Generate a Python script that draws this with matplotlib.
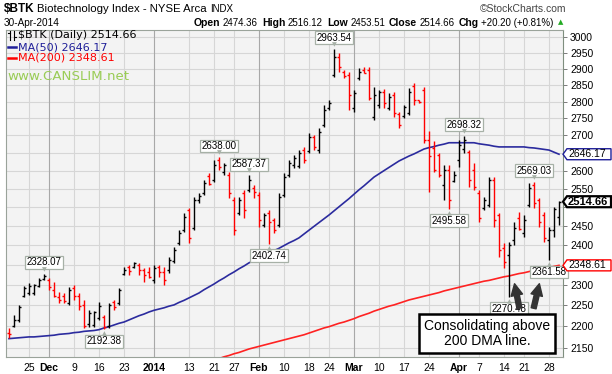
import numpy as np
import pandas as pd
import matplotlib
matplotlib.use('Agg')
import matplotlib.pyplot as plt
from matplotlib.patches import Polygon, FancyArrowPatch

# trading days on the chart
holidays = ['2013-11-28', '2013-12-25', '2014-01-01', '2014-01-20', '2014-02-17', '2014-04-18']
dates = pd.bdate_range('2013-11-19', '2014-04-30')
dates = dates[~dates.isin(pd.to_datetime(holidays))]

opens = [2183, 2201, 2215, 2273, 2280, 2280, 2297, 2315, 2312, 2288, 2270, 2273, 2256, 2293, 2273, 2251,
         2206, 2203, 2220, 2222, 2201, 2258, 2256, 2327, 2344, 2344, 2350, 2337, 2332, 2312, 2344, 2332,
         2337, 2360, 2406, 2440, 2493, 2445, 2520, 2539, 2585, 2574, 2630, 2596, 2588, 2520, 2485, 2539,
         2547, 2552, 2533, 2453, 2485, 2466, 2453, 2533, 2588, 2616, 2613, 2658, 2655, 2696, 2658, 2731,
         2781, 2881, 2937, 2891, 2881, 2781, 2872, 2897, 2897, 2754, 2790, 2829, 2781, 2820, 2763, 2757,
         2766, 2847, 2805, 2835, 2687, 2664, 2644, 2560, 2602, 2571, 2630, 2660, 2653, 2602, 2539, 2498,
         2506, 2574, 2479, 2393, 2375, 2414, 2471, 2432, 2506, 2560, 2520, 2479, 2414, 2440, 2474.36]
highs = [2195, 2227, 2251, 2297, 2305, 2302, 2317, 2328.07, 2317, 2307, 2283, 2280, 2295, 2300, 2280, 2263,
         2239, 2237, 2258, 2227, 2256, 2263, 2293, 2344, 2350, 2357, 2355, 2342, 2344, 2350, 2350, 2344,
         2370, 2396, 2440, 2485, 2498, 2528, 2539, 2574, 2594, 2630, 2638.00, 2621, 2596, 2528, 2528, 2547,
         2587.37, 2560, 2541, 2485, 2493, 2471, 2539, 2594, 2630, 2644, 2658, 2667, 2708, 2702, 2722, 2790,
         2805, 2963.54, 2950, 2897, 2891, 2835, 2903, 2906, 2906, 2844, 2835, 2838, 2826, 2829, 2769, 2790,
         2841, 2857, 2805, 2844, 2714, 2684, 2650, 2616, 2616, 2599, 2687, 2698.32, 2658, 2622, 2547, 2528,
         2582, 2582, 2485, 2406, 2409, 2461, 2487, 2479, 2566, 2569.03, 2525, 2487, 2448, 2501, 2516.12]
lows = [2172, 2199, 2210, 2270, 2275, 2275, 2295, 2312, 2288, 2270, 2256, 2256, 2251, 2263, 2239, 2196,
        2199, 2199, 2215, 2192.38, 2196, 2239, 2251, 2325, 2325, 2342, 2325, 2307, 2317, 2305, 2320, 2300,
        2330, 2355, 2401, 2435, 2406, 2440, 2512, 2533, 2560, 2568, 2602, 2588, 2525, 2427, 2479, 2471,
        2541, 2525, 2448, 2448, 2402.74, 2432, 2448, 2528, 2582, 2608, 2608, 2621, 2650, 2658, 2650, 2725,
        2775, 2875, 2891, 2872, 2775, 2769, 2866, 2888, 2805, 2745, 2781, 2781, 2775, 2754, 2722, 2751,
        2760, 2790, 2796, 2678, 2541, 2596, 2582, 2520, 2495.58, 2568, 2610, 2650, 2555, 2547, 2461, 2493,
        2501, 2448, 2370, 2342, 2270.48, 2401, 2440, 2422, 2501, 2498, 2448, 2409, 2361.58, 2422, 2453.51]
closes = [2181, 2215, 2246, 2293, 2297, 2300, 2312, 2323, 2295, 2273, 2263, 2261, 2288, 2273, 2249, 2201,
          2232, 2235, 2249, 2199, 2251, 2245, 2288, 2337, 2335, 2355, 2337, 2325, 2320, 2342, 2332, 2312,
          2363, 2388, 2432, 2474, 2419, 2520, 2531, 2566, 2562, 2616, 2610, 2616, 2539, 2440, 2520, 2493,
          2574, 2541, 2466, 2479, 2461, 2440, 2528, 2582, 2621, 2635, 2650, 2630, 2696, 2667, 2711, 2775,
          2796, 2937, 2906, 2878, 2820, 2826, 2891, 2888, 2811, 2820, 2829, 2796, 2814, 2766, 2731, 2784,
          2829, 2805, 2799, 2687, 2640, 2602, 2588, 2602, 2520, 2588, 2673, 2687, 2574, 2555, 2471, 2520,
          2574, 2466, 2388, 2357, 2401, 2445, 2443, 2466, 2552, 2512, 2461, 2419, 2440, 2494.46, 2514.66]

ma50 = [2171, 2172, 2173, 2174, 2175, 2175, 2176, 2177, 2178, 2179, 2181, 2182, 2183, 2185, 2186, 2188,
        2189, 2190, 2192, 2196, 2199, 2203, 2207, 2210, 2215, 2220, 2225, 2229, 2234, 2238, 2241, 2244,
        2248, 2251, 2257, 2262, 2268, 2274, 2280, 2288, 2295, 2302, 2310, 2317, 2325, 2332, 2340, 2347,
        2355, 2361, 2367, 2373, 2379, 2386, 2392, 2399, 2406, 2412, 2419, 2429, 2439, 2449, 2459, 2469,
        2479, 2490, 2501, 2512, 2523, 2535, 2547, 2558, 2570, 2582, 2591, 2600, 2609, 2618, 2627, 2634,
        2641, 2647, 2654, 2661, 2665, 2668, 2672, 2675, 2679, 2679, 2679, 2679, 2679, 2679, 2676, 2674,
        2672, 2669, 2667, 2667, 2667, 2667, 2667, 2667, 2665, 2664, 2662, 2660, 2658, 2652, 2646.17]
ma200 = [np.nan] * 42 + [
        2125, 2129, 2132, 2136, 2139, 2143, 2147, 2150, 2153, 2156, 2159, 2162, 2165, 2168, 2171, 2174,
        2177, 2180, 2184, 2188, 2192, 2196, 2199, 2203, 2207, 2210, 2214, 2218, 2223, 2227, 2231, 2236,
        2240, 2244, 2248, 2251, 2255, 2259, 2263, 2266, 2269, 2272, 2275, 2278, 2281, 2285, 2288, 2291,
        2294, 2297, 2300, 2303, 2306, 2309, 2311, 2314, 2317, 2320, 2322, 2325, 2328, 2330, 2333, 2336,
        2338, 2341, 2343, 2346, 2348.61]

tick_dates = ['2013-11-25', '2013-12-02', '2013-12-09', '2013-12-16', '2013-12-23', '2014-01-02',
              '2014-01-13', '2014-01-21', '2014-01-27', '2014-02-03', '2014-02-10', '2014-02-18',
              '2014-02-24', '2014-03-03', '2014-03-10', '2014-03-17', '2014-03-24', '2014-04-01',
              '2014-04-07', '2014-04-14', '2014-04-21', '2014-04-28']
tick_labels = ['25', 'Dec', '9', '16', '23', '2014', '13', '21', '27', 'Feb', '10', '18', '24', 'Mar',
               '10', '17', '24', 'Apr', '7', '14', '21', '28']
month_labels = ['Dec', '2014', 'Feb', 'Mar', 'Apr']

# labelled highs / lows: (date, value, above?)
marks = [('2013-11-29', 2328.07, True), ('2013-12-17', 2192.38, False), ('2014-01-22', 2638.00, True),
         ('2014-01-30', 2587.37, True), ('2014-02-05', 2402.74, False), ('2014-02-25', 2963.54, True),
         ('2014-03-28', 2495.58, False), ('2014-04-02', 2698.32, True), ('2014-04-15', 2270.48, False),
         ('2014-04-23', 2569.03, True), ('2014-04-28', 2361.58, False)]

n = len(dates)
assert n == len(opens) == len(highs) == len(lows) == len(closes) == len(ma50) == len(ma200)
x = np.arange(n)
o, h, l, c = (np.array(a, dtype=float) for a in (opens, highs, lows, closes))
prev = np.r_[o[0], c[:-1]]
cols = np.where(c < prev, '#ff0000', '#000000')

W, H = 612, 374
fig = plt.figure(figsize=(W / 100, H / 100), dpi=100)
L, R, T, B = 5.5, 563, 30, 357
ax = fig.add_axes([L / W, 1 - B / H, (R - L) / W, (B - T) / H])
ax.set_facecolor('#f3f3f3')
ax.set_yscale('log')
ax.set_ylim(2128.6, 3023.6)
ax.set_xlim(-0.7, 110.8)

def P(px, py):
    return px / W, 1 - py / H

# grid
yt = np.arange(2150, 3001, 50)
for v in yt:
    ax.axhline(v, color='#d6d6d6', lw=0.8, zorder=0)
tick_pos = dates.get_indexer(pd.to_datetime(tick_dates))
for p, lab in zip(tick_pos, tick_labels):
    ax.axvline(p, color='#a8a8a8' if lab in month_labels else '#d6d6d6', lw=0.8, zorder=0)

# OHLC bars
ax.vlines(x, l, h, colors=cols, lw=1.0, zorder=3)
ax.hlines(o, x - 0.45, x, colors=cols, lw=1.0, zorder=3)
ax.hlines(c, x, x + 0.45, colors=cols, lw=1.0, zorder=3)

ax.plot(x, ma50, color='#2b2b9e', lw=1.2, zorder=2)
ax.plot(x, ma200, color='#ff2222', lw=1.2, zorder=2)

# axes cosmetics
for s in ['left', 'top', 'bottom']:
    ax.spines[s].set_color('#9aa39a')
    ax.spines[s].set_linewidth(0.8)
ax.spines['right'].set_color('#7f8f7f')
ax.spines['right'].set_linestyle((0, (1, 1)))
ax.yaxis.tick_right()
ax.yaxis.set_minor_locator(matplotlib.ticker.NullLocator())
ax.set_yticks(yt)
# labels hidden behind the price tags on the right
covered = {2350, 2500, 2650}
ax.set_yticklabels(['' if v in covered else str(v) for v in yt])
ax.tick_params(axis='y', length=3, width=0.6, color='#666666', pad=2, labelsize=7.5)
ax.set_xticks(tick_pos)
ax.set_xticklabels(tick_labels)
ax.tick_params(axis='x', length=0, pad=4, labelsize=7.5)
for t in ax.get_xticklabels():
    t.set_fontfamily('Liberation Sans')
    if t.get_text() in month_labels:
        t.set_fontweight('bold')
for t in ax.get_yticklabels():
    t.set_fontfamily('Liberation Sans')

# labelled highs and lows
for d, v, up in marks:
    k = dates.get_loc(pd.Timestamp(d))
    ax.annotate(f'{v:.2f}', xy=(k, v), xytext=(0, 8 if up else -8.5), textcoords='offset points',
                ha='center', va='center', fontsize=7, family='Liberation Sans', zorder=6,
                bbox=dict(boxstyle='square,pad=0.15', fc='white', ec='#a7b1a7', lw=0.9))
    ax.annotate('\u25bc' if up else '\u25b2', xy=(k, v), xytext=(0, 3.0 if up else -3.3),
                textcoords='offset points', ha='center', va='center', fontsize=4.5,
                color='#a7b1a7', family='DejaVu Sans', zorder=6)

# right side price tags
fig.canvas.draw()
def tag(v, text, ec, bold=False):
    yp = ax.transData.transform((0, v))[1]
    xp = R
    poly = Polygon([(xp, yp), (xp + 4, yp + 5.5), (W - 1, yp + 5.5), (W - 1, yp - 5.5), (xp + 4, yp - 5.5)],
                   closed=True, transform=None, fc='white', ec=ec, lw=1.6 if bold else 1.0, zorder=10)
    fig.add_artist(poly)
    fig.text((xp + 5) / W, yp / H, text, ha='left', va='center', fontsize=8 if bold else 7.5,
             fontweight='bold' if bold else 'normal', family='Liberation Sans', zorder=11)

tag(ma50[-1], '2646.17', '#1f1f99')
tag(closes[-1], '2514.66', '#000000', bold=True)
tag(ma200[-1], '2348.61', '#ff0000')

# header
fig.text(*P(4, 8.5), '$BTK', fontsize=8.5, fontweight='bold', va='center', family='Liberation Sans')
fig.text(*P(37, 8.5), 'Biotechnology Index - NYSE Arca', fontsize=8.2, va='center', family='Liberation Sans')
fig.text(*P(210, 9), 'INDX', fontsize=7, va='center', family='Liberation Sans')
fig.text(*P(566, 8.5), '\u00a9StockCharts.com', fontsize=7.5, va='center', ha='right', color='#444444',
         family='Liberation Sans')
hy = 22.5
fig.text(*P(4, hy), '30-Apr-2014', fontsize=7.2, va='center', family='Liberation Sans')
parts = [('Open', True), ('2474.36', False), ('High', True), ('2516.12', False), ('Low', True),
         ('2453.51', False), ('Close', True), ('2514.66', False), ('Chg', True), ('+20.20 (+0.81%)', False)]
rend = fig.canvas.get_renderer()
xp = 194
for s, b in parts:
    t = fig.text(*P(xp, hy), s, fontsize=7.5 if b else 7.0, va='center', family='Liberation Sans',
                 fontweight='bold' if b else 'normal')
    xp = t.get_window_extent(rend).x1 + (2.5 if b else 4)
fig.text(*P(xp, hy), '\u25b2', fontsize=5, va='center', ha='left', color='#22aa22', family='DejaVu Sans')

# legend
fig.add_artist(plt.Line2D([10 / W, 10 / W], [1 - 31 / H, 1 - 40 / H], color='black', lw=0.8))
fig.add_artist(plt.Line2D([8 / W, 10 / W], [1 - 33 / H, 1 - 33 / H], color='black', lw=0.8))
fig.add_artist(plt.Line2D([14 / W, 14 / W], [1 - 31 / H, 1 - 40 / H], color='black', lw=0.8))
fig.add_artist(plt.Line2D([14 / W, 16 / W], [1 - 37 / H, 1 - 37 / H], color='black', lw=0.8))
fig.text(*P(18, 35.5), '$BTK (Daily) 2514.66', fontsize=8, va='center', family='DejaVu Sans')
fig.add_artist(plt.Line2D([8 / W, 16 / W], [1 - 47 / H] * 2, color='#1f1f99', lw=1.8))
fig.text(*P(18, 47), 'MA(50) 2646.17', fontsize=8, va='center', family='DejaVu Sans', color='#1f1f99')
fig.add_artist(plt.Line2D([8 / W, 16 / W], [1 - 58 / H] * 2, color='#ff0000', lw=1.8))
fig.text(*P(18, 58), 'MA(200) 2348.61', fontsize=8, va='center', family='DejaVu Sans', color='#ff0000')
fig.text(*P(7, 76), 'www.CANSLIM.net', fontsize=9.6, va='center', family='DejaVu Sans', color='#99cc55')

# comment box and arrows
def A(px, py):
    return (px - L) / (R - L), (B - py) / (B - T)

ax.text(*A(487, 333.5), 'Consolidating above\n200 DMA line.', transform=ax.transAxes, ha='center',
        va='center', fontsize=10, family='Liberation Sans', linespacing=1.15, zorder=8,
        bbox=dict(boxstyle='square,pad=0.35', fc='white', ec='black', lw=1.8))
for tail, head in [((520, 311), (514, 281)), ((533, 311), (540, 281))]:
    ax.add_patch(FancyArrowPatch(A(*tail), A(*head), transform=ax.transAxes, zorder=7,
                                 arrowstyle='simple,head_length=0.7,head_width=0.7,tail_width=0.3',
                                 mutation_scale=12, color='#333333'))

fig.savefig('out.png', dpi=100)
